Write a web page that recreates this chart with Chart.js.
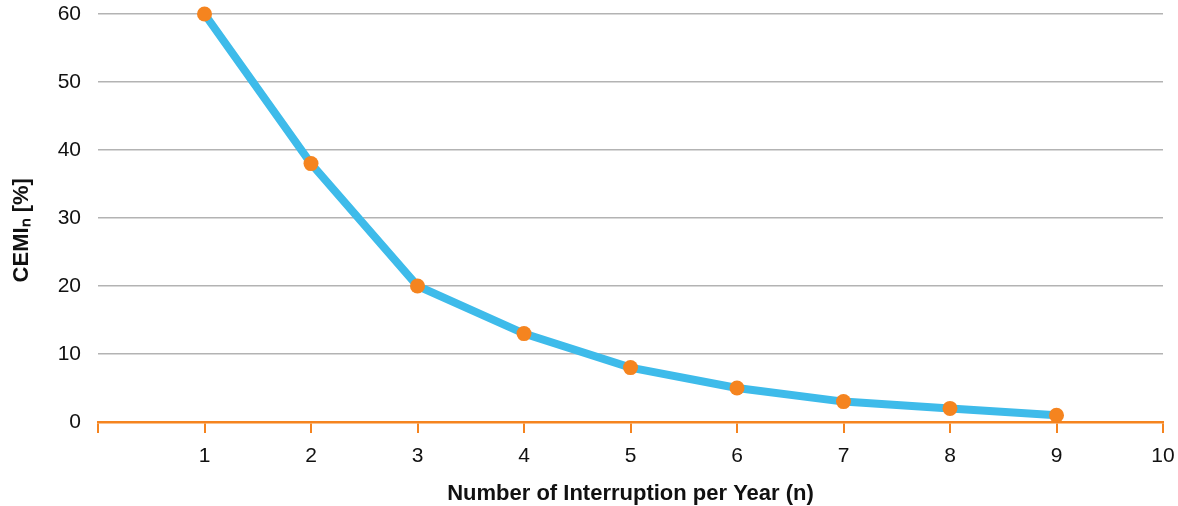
<!DOCTYPE html>
<html>
<head>
<meta charset="utf-8">
<script src="https://cdn.jsdelivr.net/npm/chart.js@4.4.1/dist/chart.umd.min.js"></script>
<style>
  html, body { margin: 0; padding: 0; background: #fff; }
  #wrap { width: 1178px; height: 506px; }
</style>
</head>
<body>
<div id="wrap"><canvas id="graficoCemi"></canvas></div>
<script>
const interrupcoes = [1, 2, 3, 4, 5, 6, 7, 8, 9];
const cemi = [60, 38, 20, 13, 8, 5, 3, 2, 1];

const laranja = '#f5841f';
const azul = '#3ebbea';

const pontos = interrupcoes.map((n, i) => ({ x: n, y: cemi[i] }));

const ctx = document.getElementById('graficoCemi').getContext('2d');
const grafico = new Chart(ctx, {
    type: 'scatter',
    data: {
        datasets: [{
            label: 'CEMI',
            data: pontos,
            showLine: true,
            clip: false,
            borderColor: azul,
            borderWidth: 8,
            tension: 0,
            pointRadius: 7.5,
            pointHoverRadius: 7.5,
            pointBackgroundColor: laranja,
            pointBorderColor: laranja,
            pointBorderWidth: 0
        }]
    },
    options: {
        responsive: true,
        maintainAspectRatio: false,
        animation: false,
        layout: {
            padding: 0
        },
        scales: {
            x: {
                type: 'linear',
                min: 0,
                max: 10,
                ticks: {
                    stepSize: 1,
                    color: '#111',
                    font: { family: 'Liberation Sans', size: 21 },
                    padding: 11,
                    callback: v => v === 0 ? '' : v
                },
                grid: {
                    display: true,
                    drawOnChartArea: false,
                    drawTicks: true,
                    tickLength: 11,
                    color: laranja,
                    lineWidth: 2
                },
                border: { display: true, color: laranja, width: 2.5 },
                title: {
                    display: true,
                    text: 'Number of Interruption per Year (n)',
                    color: '#111',
                    font: { family: 'Liberation Sans', size: 22, weight: 'bold' },
                    padding: { top: 4, bottom: -1 }
                },
                afterFit: scale => {
                    scale.height = 84;
                    scale.paddingRight = 15;
                    scale.paddingLeft = 0;
                }
            },
            y: {
                min: 0,
                max: 60,
                ticks: {
                    stepSize: 10,
                    color: '#111',
                    font: { family: 'Liberation Sans', size: 21 },
                    padding: 17
                },
                grid: {
                    color: '#b3b3b3',
                    lineWidth: 1.5,
                    drawTicks: false
                },
                border: { display: false },
                title: {
                    display: true,
                    text: 'CEMIₙ [%]    ',
                    color: '#111',
                    font: { family: 'Liberation Sans', size: 22, weight: 'bold' },
                    padding: { top: 9, bottom: 9 }
                },
                afterFit: scale => {
                    scale.width = 98;
                    scale.paddingTop = 14;
                    scale.paddingBottom = 0;
                }
            }
        },
        plugins: {
            legend: { display: false },
            tooltip: { enabled: false }
        }
    }
});
</script>
</body>
</html>
